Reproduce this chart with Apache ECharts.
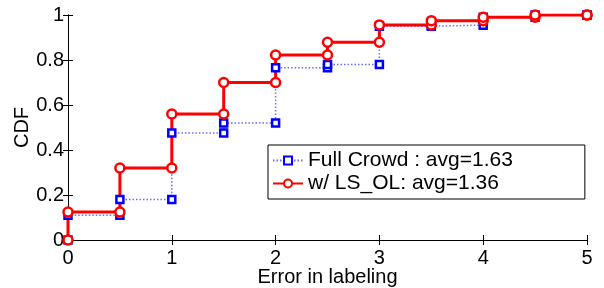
<!DOCTYPE html>
<html>
<head>
<meta charset="utf-8">
<script src="https://cdn.jsdelivr.net/npm/echarts@6/dist/echarts.min.js"></script>
<style>
    html, body { margin: 0; padding: 0; background: #fff; }
    #chart { width: 604px; height: 288px; }
</style>
</head>
<body>
<div id="chart"></div>
<script>
    // error steps and CDF values after each step
    var errorSteps = [0, 0.5, 1, 1.5, 2, 2.5, 3, 3.5, 4, 4.5, 5];
    var fullCrowdCdf = [0.11, 0.18, 0.476, 0.52, 0.766, 0.78, 0.95, 0.955, 0.99, 1.0, 1.0];
    var lsOlCdf = [0.124, 0.32, 0.56, 0.70, 0.822, 0.879, 0.956, 0.975, 0.99, 1.0, 1.0];
    var xTicks = [0, 1, 2, 3, 4, 5];
    var yTicks = [0, 0.2, 0.4, 0.6, 0.8, 1];

    // two corner points per step, so markers sit before and after each jump
    function stepPoints(cdf) {
        var pts = [];
        var prev = 0;
        for (var i = 0; i < errorSteps.length; i++) {
            pts.push([errorSteps[i], prev]);
            pts.push([errorSteps[i], cdf[i]]);
            prev = cdf[i];
        }
        return pts;
    }

    var font = 'Liberation Sans, Arial, sans-serif';
    var chart = echarts.init(document.getElementById('chart'));

    var option = {
        animation: false,
        grid: { left: 68, right: 17, top: 15, bottom: 48, containLabel: false, outerBoundsMode: 'none' },
        legend: {
            orient: 'vertical',
            left: 268,
            top: 145,
            padding: [5, 72, 5, 4],
            itemGap: 2,
            itemWidth: 30,
            itemHeight: 10,
            borderColor: '#000',
            borderWidth: 1,
            borderRadius: 0,
            backgroundColor: '#fff',
            textStyle: { fontFamily: font, fontSize: 21, color: '#000' },
            data: ['Full Crowd : avg=1.63', 'w/ LS_OL: avg=1.36']
        },
        xAxis: [{
            type: 'value',
            min: 0, max: 5, interval: xTicks[1] - xTicks[0],
            name: 'Error in labeling',
            nameLocation: 'middle',
            nameGap: 27,
            nameMoveOverlap: false,
            nameTextStyle: { fontFamily: font, fontSize: 20, color: '#000' },
            axisLine: { lineStyle: { color: '#000', width: 1 } },
            axisTick: { inside: true, length: 5, lineStyle: { color: '#000' } },
            axisLabel: { fontFamily: font, fontSize: 20, color: '#000', margin: 8 },
            splitLine: { show: false }
        }, {
            type: 'value', position: 'top',
            min: 0, max: 5, interval: 1,
            axisLine: { show: true, lineStyle: { color: '#000', width: 1 } },
            axisTick: { inside: true, length: 5, lineStyle: { color: '#000' } },
            axisLabel: { show: false },
            splitLine: { show: false }
        }],
        yAxis: [{
            type: 'value',
            min: 0, max: 1, interval: yTicks[1] - yTicks[0],
            name: 'CDF',
            nameLocation: 'middle',
            nameGap: 36,
            nameMoveOverlap: false,
            nameTextStyle: { fontFamily: font, fontSize: 20, color: '#000' },
            axisLine: { show: true, lineStyle: { color: '#000', width: 1 } },
            axisTick: { show: true, inside: true, length: 5, lineStyle: { color: '#000' } },
            axisLabel: { fontFamily: font, fontSize: 20, color: '#000', margin: 4 },
            splitLine: { show: false }
        }, {
            type: 'value', position: 'right',
            min: 0, max: 1, interval: 0.2,
            axisLine: { show: true, lineStyle: { color: '#000', width: 1 } },
            axisTick: { show: true, inside: true, length: 5, lineStyle: { color: '#000' } },
            axisLabel: { show: false },
            splitLine: { show: false }
        }],
        series: [{
            name: 'Full Crowd : avg=1.63',
            type: 'line',
            data: stepPoints(fullCrowdCdf),
            symbol: 'rect',
            symbolSize: 7,
            lineStyle: { color: '#6a6aff', width: 1.5, type: [1.5, 2] },
            itemStyle: { color: '#fff', borderColor: '#0000ff', borderWidth: 2.5 }
        }, {
            name: 'w/ LS_OL: avg=1.36',
            type: 'line',
            data: stepPoints(lsOlCdf),
            symbol: 'circle',
            symbolSize: 9,
            lineStyle: { color: '#ff0000', width: 3 },
            itemStyle: { color: '#fff', borderColor: '#ff0000', borderWidth: 2.5 }
        }]
    };

    chart.setOption(option);
</script>
</body>
</html>
